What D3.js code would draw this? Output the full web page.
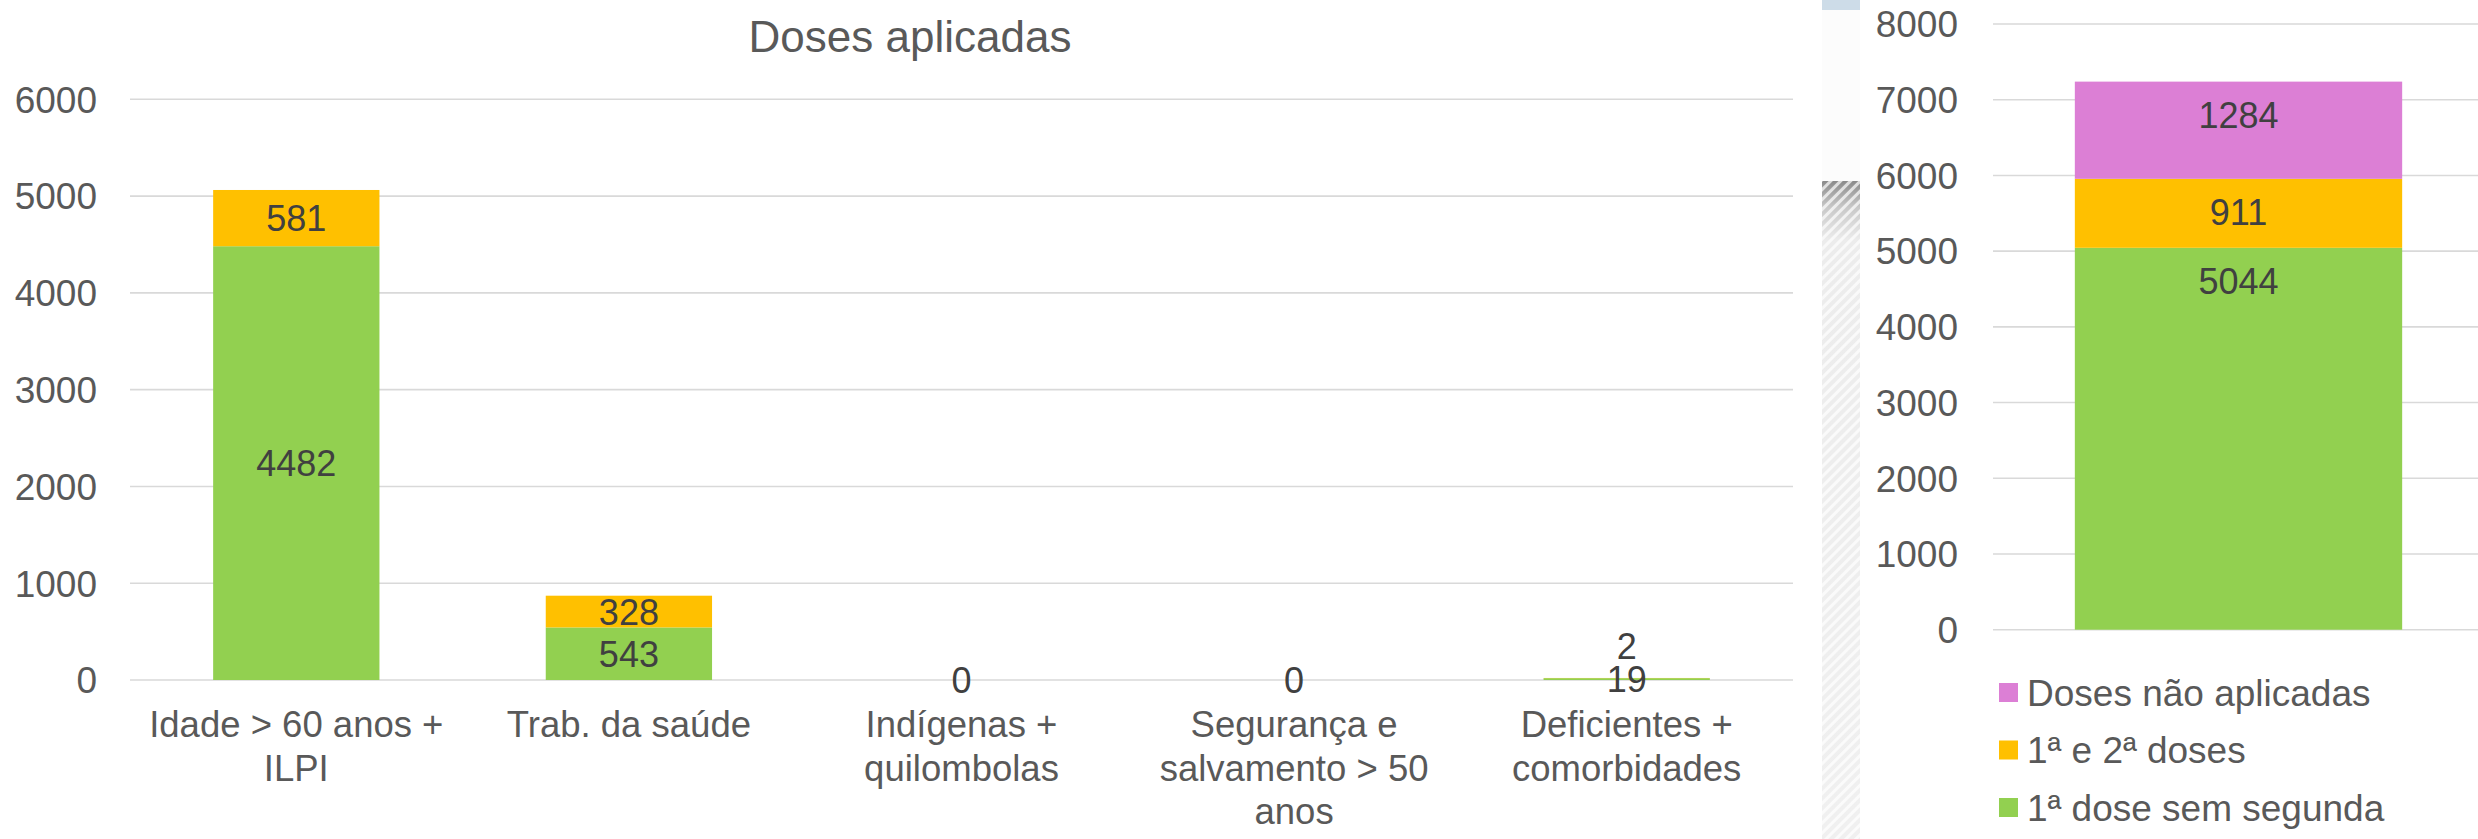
<!DOCTYPE html>
<html>
<head>
<meta charset="utf-8">
<script src="https://cdn.jsdelivr.net/npm/d3@7"></script>
<style>
  html, body { margin: 0; padding: 0; background: #fff; }
  svg text { font-family: "Liberation Sans", Arial, sans-serif; }
</style>
</head>
<body>
<div id="chart"></div>
<script>
var width = 2478, height = 839;

// left chart data
var categories = ["Idade > 60 anos + ILPI", "Trab. da saúde", "Indígenas + quilombolas",
                  "Segurança e salvamento > 50 anos", "Deficientes + comorbidades"];
var firstOnly = [4482, 543, 0, 0, 19];
var bothDoses = [581, 328, null, null, 2];
var leftTicks = [0, 1000, 2000, 3000, 4000, 5000, 6000];

// right chart data
var totalNames = ["1ª dose sem segunda", "1ª e 2ª doses", "Doses não aplicadas"];
var totalValues = [5044, 911, 1284];
var totalColors = ["#92d050", "#ffc000", "#dc7fd5"];
var rightTicks = [0, 1000, 2000, 3000, 4000, 5000, 6000, 7000, 8000];

var axisColor = "#595959", labelColor = "#404040", gridColor = "#d9d9d9";

var svg = d3.select("#chart").append("svg")
  .attr("width", width)
  .attr("height", height);

var defs = svg.append("defs");

// ---------- left chart ----------
var xL = d3.scaleBand().domain(categories).range([130, 1793])
  .paddingInner(0.5).paddingOuter(0.25);
var yL = d3.scaleLinear().domain([0, 6000]).range([680, 99.3]);

svg.append("text")
  .attr("x", 910).attr("y", 52)
  .attr("text-anchor", "middle")
  .attr("font-size", 44)
  .attr("fill", axisColor)
  .text("Doses aplicadas");

var gridL = svg.append("g").attr("class", "grid-left");
gridL.selectAll("line").data(leftTicks).enter().append("line")
  .attr("x1", 130).attr("x2", 1793)
  .attr("y1", d => yL(d)).attr("y2", d => yL(d))
  .attr("stroke", gridColor).attr("stroke-width", 1.6);

svg.append("g").selectAll("text").data(leftTicks).enter().append("text")
  .attr("x", 97).attr("y", d => yL(d))
  .attr("dy", "0.36em")
  .attr("text-anchor", "end")
  .attr("font-size", 37)
  .attr("fill", axisColor)
  .text(d => d);

var rowsL = categories.map(function(c, i) {
  return {cat: c, first: firstOnly[i], both: bothDoses[i]};
});
var seriesL = [
  {key: "first", color: "#92d050"},
  {key: "both", color: "#ffc000"}
];

var barsL = svg.append("g").attr("class", "bars-left");
var labelsL = svg.append("g").attr("class", "labels-left");

rowsL.forEach(function(row) {
  var base = 0, lastY = null;
  seriesL.forEach(function(s) {
    var v = row[s.key];
    if (v == null) return;
    var y0 = yL(base), y1 = yL(base + v);
    barsL.append("rect")
      .attr("x", xL(row.cat))
      .attr("width", xL.bandwidth())
      .attr("y", y1)
      .attr("height", Math.max(0, y0 - y1))
      .attr("fill", s.color);
    var ly = (y0 + y1) / 2;
    // push label up if it would sit on top of the one below
    if (lastY !== null && lastY - ly < 33) ly = lastY - 33;
    lastY = ly;
    labelsL.append("text")
      .attr("x", xL(row.cat) + xL.bandwidth() / 2)
      .attr("y", ly)
      .attr("dy", "0.36em")
      .attr("text-anchor", "middle")
      .attr("font-size", 36)
      .attr("fill", labelColor)
      .text(v);
    base += v;
  });
});

// category labels, wrapped to the category width
var catG = svg.append("g").attr("class", "cat-labels");
categories.forEach(function(c) {
  var cx = xL(c) + xL.bandwidth() / 2;
  var t = catG.append("text")
    .attr("x", cx)
    .attr("y", 737)
    .attr("text-anchor", "middle")
    .attr("font-size", 36.5)
    .attr("fill", axisColor);
  var words = c.split(" "), line = [];
  var tspan = t.append("tspan").attr("x", cx).attr("dy", 0);
  words.forEach(function(w) {
    line.push(w);
    tspan.text(line.join(" "));
    if (tspan.node().getComputedTextLength() > xL.step() * 0.95 && line.length > 1) {
      line.pop();
      tspan.text(line.join(" "));
      line = [w];
      tspan = t.append("tspan").attr("x", cx).attr("dy", 43.5).text(w);
    }
  });
});

// ---------- separator strip ----------
var grad = defs.append("linearGradient").attr("id", "stripGrad")
  .attr("x1", 0).attr("y1", 0).attr("x2", 0).attr("y2", 1);
grad.append("stop").attr("offset", "0%").attr("stop-color", "#8a8a8a");
grad.append("stop").attr("offset", "4%").attr("stop-color", "#c8c8c8");
grad.append("stop").attr("offset", "9%").attr("stop-color", "#ececec");
grad.append("stop").attr("offset", "100%").attr("stop-color", "#f0f0f0");

var hatch = defs.append("pattern").attr("id", "hatch")
  .attr("patternUnits", "userSpaceOnUse")
  .attr("width", 7).attr("height", 7)
  .attr("patternTransform", "rotate(45)");
hatch.append("rect").attr("width", 3).attr("height", 7)
  .attr("fill", "#fff").attr("opacity", 0.7);

svg.append("rect").attr("x", 1822).attr("y", 0).attr("width", 38).attr("height", 10)
  .attr("fill", "#cddce8");
svg.append("rect").attr("x", 1822).attr("y", 10).attr("width", 38).attr("height", 171)
  .attr("fill", "#fcfcfc");
svg.append("rect").attr("x", 1822).attr("y", 181).attr("width", 38).attr("height", 658)
  .attr("fill", "url(#stripGrad)");
svg.append("rect").attr("x", 1822).attr("y", 181).attr("width", 38).attr("height", 658)
  .attr("fill", "url(#hatch)");

// ---------- right chart ----------
var xR = d3.scaleBand().domain(["total"]).range([1993, 2484])
  .paddingInner(0).paddingOuter(0.25);
var yR = d3.scaleLinear().domain([0, 8000]).range([629.7, 24]);

svg.append("g").selectAll("line").data(rightTicks).enter().append("line")
  .attr("x1", 1993).attr("x2", 2478)
  .attr("y1", d => yR(d)).attr("y2", d => yR(d))
  .attr("stroke", gridColor).attr("stroke-width", 1.6);

svg.append("g").selectAll("text").data(rightTicks).enter().append("text")
  .attr("x", 1958).attr("y", d => yR(d))
  .attr("dy", "0.36em")
  .attr("text-anchor", "end")
  .attr("font-size", 37)
  .attr("fill", axisColor)
  .text(d => d);

var stackR = d3.stack().keys(totalNames)([
  totalNames.reduce(function(o, k, i) { o[k] = totalValues[i]; return o; }, {})
]);

var segR = svg.append("g").attr("class", "bars-right");
stackR.forEach(function(layer, i) {
  var d = layer[0];
  segR.append("rect")
    .attr("x", xR("total"))
    .attr("width", xR.bandwidth())
    .attr("y", yR(d[1]))
    .attr("height", yR(d[0]) - yR(d[1]))
    .attr("fill", totalColors[i]);
  // inside-end labels
  segR.append("text")
    .attr("x", xR("total") + xR.bandwidth() / 2)
    .attr("y", yR(d[1]) + 33)
    .attr("dy", "0.36em")
    .attr("text-anchor", "middle")
    .attr("font-size", 36)
    .attr("fill", labelColor)
    .text(totalValues[i]);
});

// legend, top entry is the top of the stack
var legendItems = totalNames.map(function(n, i) { return {name: n, color: totalColors[i]}; }).reverse();
var legend = svg.append("g").attr("class", "legend")
  .selectAll("g").data(legendItems).enter().append("g")
  .attr("transform", (d, i) => "translate(1999," + (692.5 + i * 57.5) + ")");
legend.append("rect")
  .attr("x", 0).attr("y", -9.5).attr("width", 19).attr("height", 19)
  .attr("fill", d => d.color);
legend.append("text")
  .attr("x", 28).attr("y", 0)
  .attr("dy", "0.36em")
  .attr("font-size", 37)
  .attr("fill", axisColor)
  .text(d => d.name);
</script>
</body>
</html>
